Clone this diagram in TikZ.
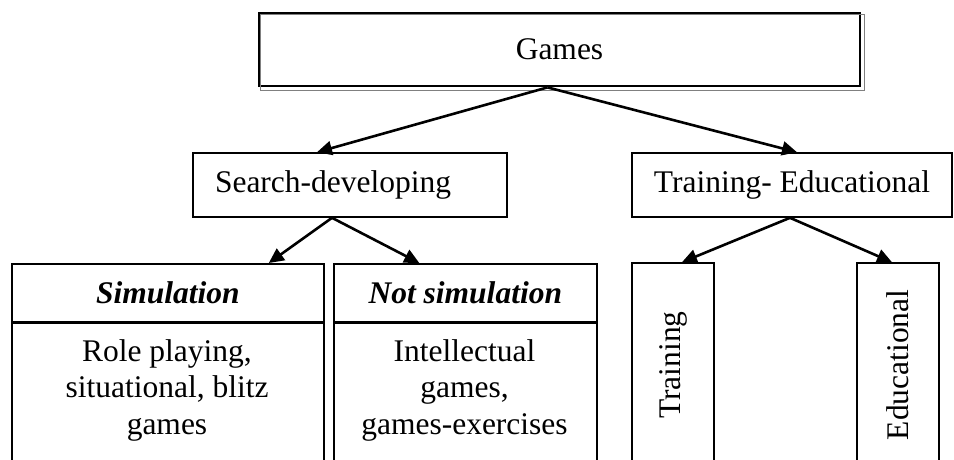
\documentclass[tikz,border=0pt]{standalone}
\usepackage{fontspec}
\setmainfont{Liberation Serif}
\usetikzlibrary{arrows.meta,positioning}
\tikzset{box/.style={draw,rectangle,line width=1.6pt,inner sep=0pt,font=\fontsize{31.5}{36.5}\selectfont,align=center}}
\tikzset{col/.style={box,anchor=north west}}
\tikzset{arrow/.style={draw,line width=2.6pt,-{Triangle[length=15pt,width=14pt]}}}
\tikzset{lbl/.style={font=\fontsize{31.5}{36.5}\selectfont,align=center,inner sep=0pt}}

\begin{document}
\begin{tikzpicture}[x=1pt,y=-1pt]
    \useasboundingbox (0,0) rectangle (954,459);
    \clip (0,0) rectangle (954,459);

    \node[box,line width=2.8pt,minimum width=601pt,minimum height=73pt] (games) at (559.5,49.5) {Games};
    \draw[gray,line width=1.4pt] ([shift={(3,3)}]games.north west) rectangle ([shift={(3,3)}]games.south east);

    \node[box,minimum width=314pt,minimum height=64pt,text width=270pt,align=left] (search) at (350,185) {Search-developing};
    \node[box,minimum width=320pt,minimum height=64pt] (traedu) at (792,185) {Training- Educational};

    % simulation / not simulation
    \node[col,minimum width=312pt,minimum height=58pt] (simhead) at (11,263) {\textbf{\textit{Simulation}}};
    \node[col,minimum width=312pt,minimum height=160pt] (simcol) at (simhead.south west) {};
    \node[lbl] (simtext) at (167,390) {Role playing,\\situational, blitz\\games};

    \node[col,minimum width=263pt,minimum height=58pt] (nothead) at (333,263) {\textbf{\textit{Not simulation}}};
    \node[col,minimum width=263pt,minimum height=160pt] (notcol) at (nothead.south west) {};
    \node[lbl] (nottext) at (464.5,390) {Intellectual\\games,\\games-exercises};

    % training / educational
    \node[box,rotate=90,minimum width=204pt,minimum height=82pt] (train) at (673,365) {Training};
    \node[box,rotate=90,minimum width=204pt,minimum height=82pt] (edu) at (898,365) {Educational};

    \path[arrow] ([xshift=-12pt]games.south) -- ([xshift=-33pt]search.north);
    \path[arrow] ([xshift=-12pt]games.south) -- ([xshift=5pt]traedu.north);
    \path[arrow] ([xshift=-18pt]search.south) -- ([xshift=101pt]simhead.north);
    \path[arrow] ([xshift=-18pt]search.south) -- ([xshift=-46pt]nothead.north);
    \path[arrow] ([xshift=-2pt]traedu.south) -- ([xshift=9pt]train.east);
    \path[arrow] ([xshift=-2pt]traedu.south) -- ([xshift=-6pt]edu.east);
\end{tikzpicture}
\end{document}
